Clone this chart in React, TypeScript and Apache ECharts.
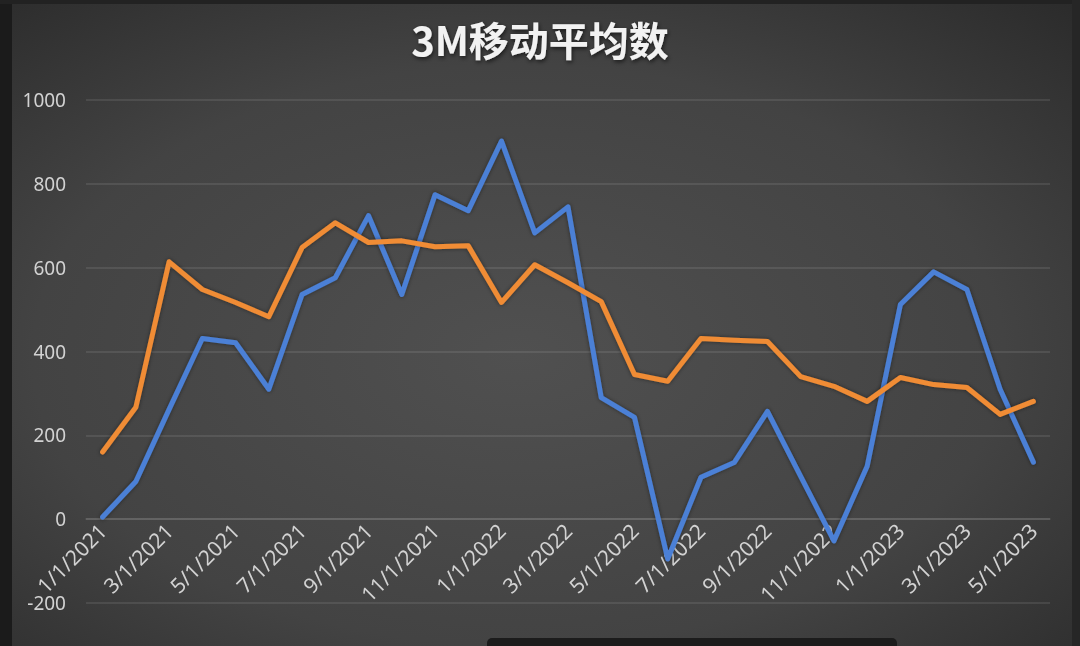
import { useEffect, useRef } from "react";
import * as echarts from "echarts";

// ─── Data ───────────────────────────────────────────────────────────
const TITLE = "3M移动平均数";

const MONTHS = [
  "1/1/2021", "2/1/2021", "3/1/2021", "4/1/2021", "5/1/2021", "6/1/2021",
  "7/1/2021", "8/1/2021", "9/1/2021", "10/1/2021", "11/1/2021", "12/1/2021",
  "1/1/2022", "2/1/2022", "3/1/2022", "4/1/2022", "5/1/2022", "6/1/2022",
  "7/1/2022", "8/1/2022", "9/1/2022", "10/1/2022", "11/1/2022", "12/1/2022",
  "1/1/2023", "2/1/2023", "3/1/2023", "4/1/2023", "5/1/2023",
];

const ACTUAL = [
  5, 90, 262, 431, 421, 310, 536, 576, 724, 536, 774, 736,
  902, 683, 745, 290, 243, -95, 100, 135, 257, 102, -52, 126,
  512, 590, 548, 310, 136,
];

const MOVING_AVG = [
  160, 267, 614, 548, 517, 483, 648, 707, 660, 664, 650, 652,
  517, 607, 564, 519, 345, 329, 431, 427, 424, 340, 317, 281,
  338, 321, 314, 250, 281,
];

const Y_MIN = -200;
const Y_MAX = 1000;
const Y_STEP = 200;

// ─── Theme ──────────────────────────────────────────────────────────
const BLUE = "#4b80d6";
const ORANGE = "#f08c35";
const LABEL = "#d2d2d2";
const GRID = "rgba(255,255,255,0.12)";
const AXIS_FONT = "'Noto Sans', sans-serif";

const GRID_TOP = 100;
const GRID_BOTTOM = 43;
const HEIGHT = 646;

export default function App() {
  const ref = useRef<HTMLDivElement>(null);

  useEffect(() => {
    if (!ref.current) return;
    const chart = echarts.init(ref.current, undefined, { renderer: "svg" });

    // category axis sits on the zero line, as in the Excel original
    const plotH = HEIGHT - GRID_TOP - GRID_BOTTOM;
    const zeroOffset = -plotH * ((0 - Y_MIN) / (Y_MAX - Y_MIN));

    const lineSeries = (name: string, data: number[], color: string) => ({
      type: "line" as const,
      name,
      data,
      showSymbol: false,
      symbol: "none",
      lineStyle: {
        color,
        width: 5,
        cap: "round",
        join: "round",
        shadowColor: "rgba(0,0,0,0.45)",
        shadowBlur: 4,
      },
      itemStyle: { color },
      z: 3,
    });

    chart.setOption({
      animation: false,
      backgroundColor: {
        type: "radial",
        x: 0.48,
        y: 0.55,
        r: 0.75,
        colorStops: [
          { offset: 0, color: "#505050" },
          { offset: 0.6, color: "#434343" },
          { offset: 1, color: "#2b2b2b" },
        ],
      },
      title: {
        text: TITLE,
        left: "center",
        top: 14,
        textStyle: {
          color: "#f2f2f2",
          fontSize: 40,
          fontWeight: "bold",
          fontFamily: "'Noto Sans CJK SC', sans-serif",
          textShadowColor: "rgba(0,0,0,0.6)",
          textShadowBlur: 4,
          textShadowOffsetX: 1,
          textShadowOffsetY: 2,
        },
      },
      grid: {
        left: 86,
        right: 30,
        top: GRID_TOP,
        bottom: GRID_BOTTOM,
        containLabel: false,
        outerBoundsMode: "none",
      },
      xAxis: {
        type: "category",
        data: MONTHS,
        boundaryGap: true,
        position: "bottom",
        offset: zeroOffset,
        axisLine: { show: true, onZero: false, lineStyle: { color: GRID, width: 1.5 } },
        axisTick: { show: false },
        splitLine: { show: false },
        axisLabel: {
          interval: 1,
          rotate: 45,
          margin: 8,
          color: LABEL,
          fontSize: 21,
          fontFamily: AXIS_FONT,
        },
      },
      yAxis: {
        type: "value",
        min: Y_MIN,
        max: Y_MAX,
        interval: Y_STEP,
        axisLine: { show: false },
        axisTick: { show: false },
        axisLabel: {
          color: LABEL,
          fontSize: 19,
          fontFamily: AXIS_FONT,
          margin: 20,
          formatter: (v: number) => String(v),
        },
        splitLine: { show: true, lineStyle: { color: GRID, width: 1.5 } },
      },
      series: [
        lineSeries("实际", ACTUAL, BLUE),
        lineSeries("3M移动平均", MOVING_AVG, ORANGE),
      ],
      graphic: [
        // dark video frame edges
        { type: "rect", left: 0, top: 0, shape: { width: 12, height: 646 }, style: { fill: "#1b1b1b" }, z: 100 },
        { type: "rect", left: 0, top: 0, shape: { width: 1080, height: 4 }, style: { fill: "#222222" }, z: 100 },
        { type: "rect", right: 0, top: 0, shape: { width: 8, height: 646 }, style: { fill: "#262626" }, z: 100 },
        // caption box at the bottom
        {
          type: "rect",
          left: 487,
          top: 638,
          shape: { width: 410, height: 20, r: 5 },
          style: { fill: "#1c1c1c" },
          z: 100,
        },
      ],
    });

    return () => chart.dispose();
  }, []);

  return (
    <div
      ref={ref}
      style={{ position: "fixed", left: 0, top: 0, width: 1080, height: HEIGHT }}
    />
  );
}
